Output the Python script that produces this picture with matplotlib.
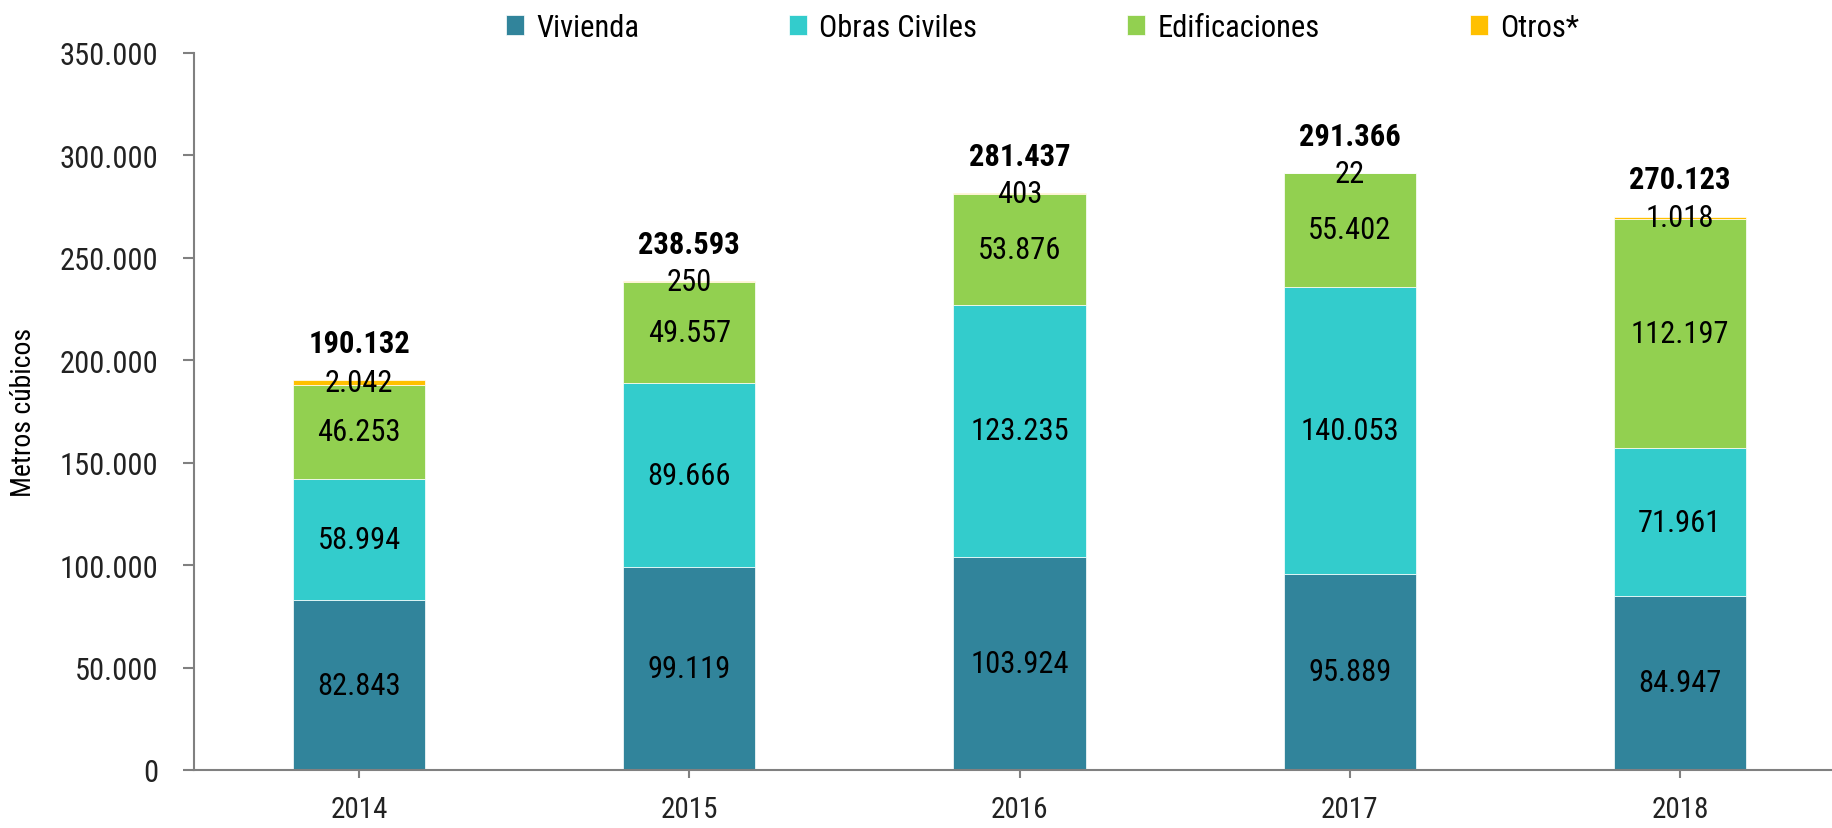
import numpy as np
import matplotlib.pyplot as plt

plt.rcParams['font.family'] = ['Roboto Condensed', 'DejaVu Sans Condensed', 'Roboto', 'DejaVu Sans']

FONTSIZE = 22

years = ["2014", "2015", "2016", "2017", "2018"]
vivienda = [82843, 99119, 103924, 95889, 84947]
obras_civiles = [58994, 89666, 123235, 140053, 71961]
edificaciones = [46253, 49557, 53876, 55402, 112197]
otros = [2042, 250, 403, 22, 1018]
totales = [190132, 238593, 281437, 291366, 270123]

series_names = ["Vivienda", "Obras Civiles", "Edificaciones", "Otros*"]
colors = ["#31849B", "#33CCCC", "#92D050", "#FFC000"]


def fmt(v):
    return f"{v:,}".replace(",", ".")


fig = plt.figure(figsize=(18.32, 8.29), dpi=100)
ax = fig.add_axes([0.1059, 0.070, 0.894, 0.865])

x = np.arange(len(years))
width = 0.4
bottom = np.zeros(len(years))
for name, vals, col in zip(series_names, [vivienda, obras_civiles, edificaciones, otros], colors):
    vals = np.array(vals, dtype=float)
    ax.bar(x, vals, width, bottom=bottom, color=col, label=name,
           edgecolor="white", linewidth=0.5)
    for xi, b, v in zip(x, bottom, vals):
        ax.text(xi, b + v / 2, fmt(int(v)), ha="center", va="center",
                fontsize=FONTSIZE, color="black")
    bottom += vals

for xi, t in zip(x, totales):
    ax.annotate(fmt(t), (xi, t), xytext=(0, 27), textcoords="offset points",
                ha="center", va="center", fontsize=FONTSIZE, fontweight="bold")

ax.set_xlim(-0.5, 4.46)
ax.set_ylim(0, 350000)
ax.set_yticks(np.arange(0, 350001, 50000))
ax.set_yticklabels([fmt(v) for v in range(0, 350001, 50000)])
ax.set_xticks(x)
ax.set_xticklabels(years)
ax.set_ylabel("Metros cúbicos", fontsize=20)
ax.yaxis.set_label_coords(-0.096, 0.5)

for s in ["top", "right"]:
    ax.spines[s].set_visible(False)
for s in ["left", "bottom"]:
    ax.spines[s].set_color("#808080")
    ax.spines[s].set_linewidth(1.5)
ax.tick_params(axis="y", length=8, width=1.5, color="#808080", pad=18,
               labelsize=FONTSIZE, colors="#808080", labelcolor="#222222")
ax.tick_params(axis="x", length=6, width=1.5, color="#808080", pad=12,
               labelsize=FONTSIZE - 1, colors="#808080", labelcolor="#222222")

ax.legend(loc="center", bbox_to_anchor=(0.569, 0.966), bbox_transform=fig.transFigure,
          ncol=4, frameon=False, fontsize=FONTSIZE, handlelength=0.6, handleheight=0.6,
          handletextpad=0.4, columnspacing=4.9)

fig.savefig("out.png", dpi=100)
